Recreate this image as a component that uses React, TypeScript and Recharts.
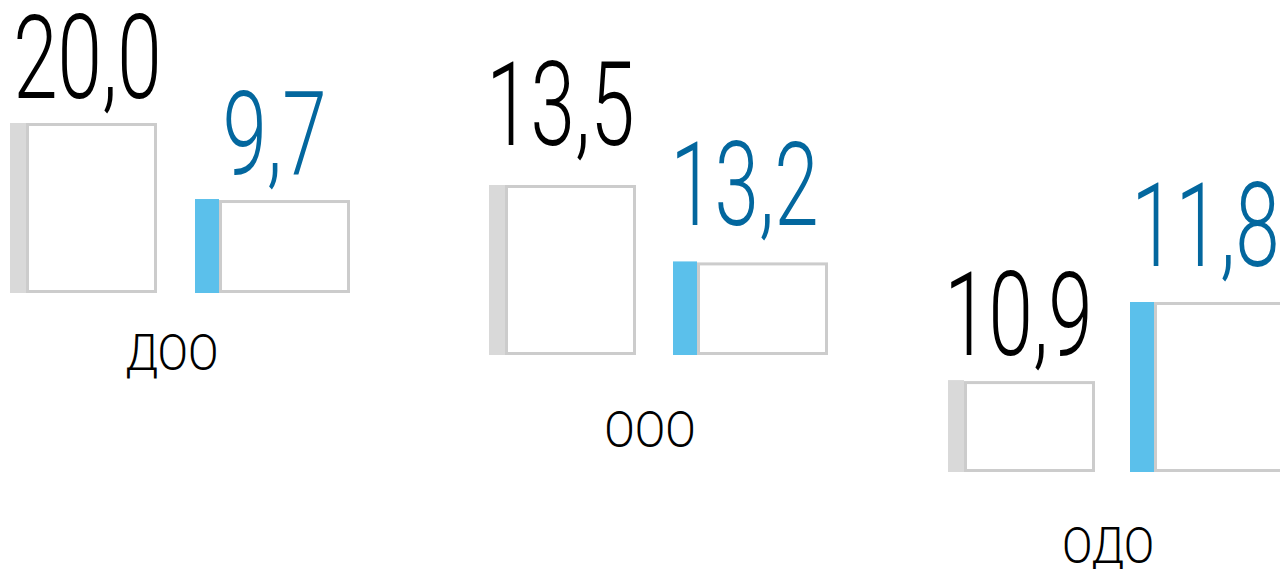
import { BarChart, Bar, XAxis, YAxis, LabelList } from "recharts";

const categories = ["ДОО", "ООО", "ОДО"];
const prevValues = [20.0, 13.5, 10.9];
const currValues = [9.7, 13.2, 11.8];

// each group has its own log axis floor, so every pair keeps the two bar heights of the picture
const axisFloors = [4.05, 12.85, 9.95];

const TOP = 170;
const layout = [
  { left: -30, top: 123 - TOP, gap: 38, labelGaps: [25, 26], labelDx: [4, 2], tickGap: 77 },
  { left: 448, top: 185 - TOP, gap: 37, labelGaps: [40, 37], labelDx: [-2, -6], tickGap: 92 },
  { left: 906, top: 302 - TOP, gap: 35, labelGaps: [26, 36], labelDx: [-3, -2], tickGap: 91 },
];

const GRAY = "#d9d9d9";
const BLUE = "#5bc0eb";
const BORDER = "#cccccc";
const BLUE_TEXT = "#03679e";

const fmt = (v: number) => v.toFixed(1).replace(".", ",");

const makeShape = (stripe: string, stripeW: number) => (props: any) => {
  const { x, y, width, height } = props;
  if (!height || height <= 0) return <g />;
  return (
    <g>
      <rect x={x + stripeW + 1.5} y={y + 1.5} width={width - stripeW - 3} height={height - 3} fill="#fff" stroke={BORDER} strokeWidth={3} />
      <rect x={x} y={y - 1} width={stripeW} height={height + 2} fill={stripe} />
    </g>
  );
};

const makeLabel = (color: string, gap: number, dx: number) => (props: any) => {
  const { x, y, width, value } = props;
  return (
    <text
      transform={`translate(${x + width / 2 + dx},${y - gap}) scale(0.69,1)`}
      textAnchor="middle"
      fontFamily="Roboto"
      fontWeight={300}
      fontSize={116}
      fill={color}
    >
      {fmt(value)}
    </text>
  );
};

function Group({ i }: { i: number }) {
  const data = [{ name: categories[i], prev: prevValues[i], curr: currValues[i] }];
  const l = layout[i];
  const hi = Math.max(prevValues[i], currValues[i]);
  return (
    <div style={{ position: "absolute", left: l.left, top: l.top }}>
      <BarChart width={420} height={TOP + 170 + 130} data={data} barGap={l.gap} margin={{ top: TOP, right: 0, bottom: 0, left: 0 }}>
        <XAxis
          dataKey="name"
          height={130}
          axisLine={false}
          tickLine={false}
          tickSize={0}
          tickMargin={0}
          interval={0}
          tick={(p: any) => (
            <text
              transform={`translate(${p.x - 8},${p.y + l.tickGap}) scale(0.9,1)`}
              textAnchor="middle"
              fontFamily="Roboto"
              fontWeight={300}
              fontSize={50}
              fill="#000"
            >
              {p.payload.value}
            </text>
          )}
        />
        <YAxis hide type="number" scale="log" domain={[axisFloors[i], hi]} allowDataOverflow />
        <Bar dataKey="prev" barSize={147} shape={makeShape(GRAY, 16)} isAnimationActive={false}>
          <LabelList dataKey="prev" content={makeLabel("#000", l.labelGaps[0], l.labelDx[0])} />
        </Bar>
        <Bar dataKey="curr" barSize={155} shape={makeShape(BLUE, 24)} isAnimationActive={false}>
          <LabelList dataKey="curr" content={makeLabel(BLUE_TEXT, l.labelGaps[1], l.labelDx[1])} />
        </Bar>
      </BarChart>
    </div>
  );
}

export default function App() {
  return (
    <div style={{ position: "absolute", left: 0, top: 0, width: 1280, height: 569, overflow: "hidden", background: "#fff" }}>
      {categories.map((_, i) => (
        <Group key={i} i={i} />
      ))}
    </div>
  );
}
